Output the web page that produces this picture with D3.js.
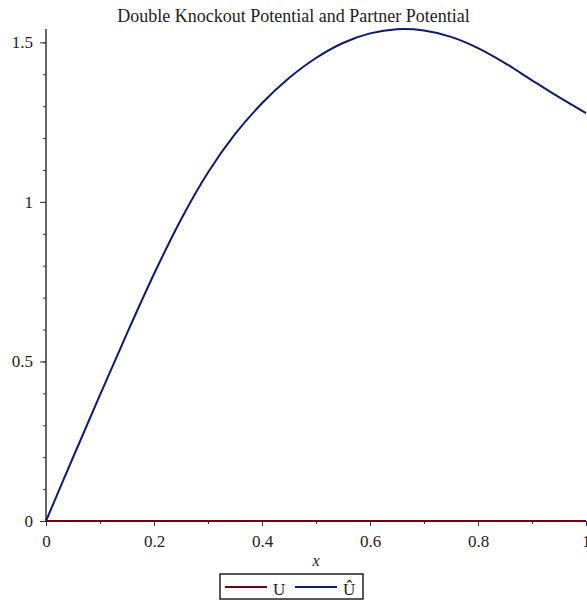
<!DOCTYPE html>
<html>
<head>
<meta charset="utf-8">
<script src="https://cdn.jsdelivr.net/npm/d3@7"></script>
<style>
  body { margin: 0; background: #fff; }
  svg { font-family: "Liberation Serif", "Times New Roman", serif; }
  .axis path, .axis line { stroke: #333; }
  .axis text { font-family: "Liberation Serif", serif; font-size: 17px; fill: #222; }
</style>
</head>
<body>
<div id="plot"></div>
<script>
// data
var xs = [0, 0.05, 0.1, 0.15, 0.2, 0.25, 0.3, 0.35, 0.4, 0.45, 0.5,
  0.55, 0.6, 0.65, 0.7, 0.75, 0.8, 0.85, 0.9, 0.95, 1.0];
var uVals = xs.map(function() { return 0; });
var uHatVals = [0, 0.199, 0.395, 0.588, 0.774, 0.945, 1.092, 1.212, 1.309, 1.388, 1.451,
  1.498, 1.528, 1.541, 1.537, 1.517, 1.482, 1.435, 1.381, 1.328, 1.278];
var xTicks = [0, 0.2, 0.4, 0.6, 0.8, 1];
var yTicks = [0, 0.5, 1, 1.5];
var seriesNames = ["U", "Û"];
var seriesColors = ["#78000E", "#0B1A72"];

var W = 587, H = 604;
var margin = { top: 29, right: 1, bottom: 83, left: 46 };
var width = W - margin.left - margin.right,
    height = H - margin.top - margin.bottom;

var svg = d3.select("#plot").append("svg")
  .attr("width", W)
  .attr("height", H);

var g = svg.append("g")
  .attr("transform", "translate(" + margin.left + "," + margin.top + ")");

var xScale = d3.scaleLinear().domain([0, 1]).range([0, width]);
var yScale = d3.scaleLinear().domain([0, 1.5418]).range([height, 0]);

// minor ticks
g.append("g").attr("class", "axis")
  .attr("transform", "translate(0," + height + ")")
  .call(d3.axisBottom(xScale).tickValues(d3.range(0.1, 1, 0.2)).tickSize(3).tickFormat(""))
  .select(".domain").remove();
g.append("g").attr("class", "axis")
  .call(d3.axisLeft(yScale).tickValues(d3.range(0, 1.55, 0.1)).tickSize(3).tickFormat(""))
  .select(".domain").remove();

var xAxis = g.append("g").attr("class", "axis")
  .attr("transform", "translate(0," + height + ")")
  .call(d3.axisBottom(xScale).tickValues(xTicks).tickSize(5).tickPadding(9)
    .tickFormat(function(d) { return d === 0 || d === 1 ? d : d3.format(".1f")(d); }));
var yAxis = g.append("g").attr("class", "axis")
  .call(d3.axisLeft(yScale).tickValues(yTicks).tickSize(6).tickPadding(7)
    .tickFormat(function(d) { return d; }));

g.selectAll(".axis .domain").attr("stroke-width", 1.5);
xAxis.select(".domain").attr("d", "M0,0H" + width);
yAxis.select(".domain").attr("d", "M0," + height + "V" + yScale(1.5418));

var line = d3.line()
  .x(function(d) { return xScale(d[0]); })
  .y(function(d) { return yScale(d[1]); })
  .curve(d3.curveCatmullRom);

[uVals, uHatVals].forEach(function(vals, i) {
  g.append("path")
    .datum(xs.map(function(x, j) { return [x, vals[j]]; }))
    .attr("fill", "none")
    .attr("stroke", seriesColors[i])
    .attr("stroke-width", 2)
    .attr("d", line);
});

// title
svg.append("text")
  .attr("x", W / 2)
  .attr("y", 22)
  .attr("text-anchor", "middle")
  .style("font-size", "18px")
  .attr("fill", "#222")
  .text("Double Knockout Potential and Partner Potential");

// x label
svg.append("text")
  .attr("x", margin.left + width / 2)
  .attr("y", 566)
  .attr("text-anchor", "middle")
  .style("font-size", "16px")
  .style("font-style", "italic")
  .attr("fill", "#222")
  .text("x");

// legend
var lg = svg.append("g").attr("transform", "translate(220,574)");
lg.append("rect")
  .attr("width", 143).attr("height", 25)
  .attr("fill", "#fff").attr("stroke", "#222").attr("stroke-width", 1.5);
var legendX = [5, 75];
seriesNames.forEach(function(name, i) {
  lg.append("line")
    .attr("x1", legendX[i]).attr("x2", legendX[i] + 42)
    .attr("y1", 13).attr("y2", 13)
    .attr("stroke", seriesColors[i]).attr("stroke-width", 2);
  lg.append("text")
    .attr("x", legendX[i] + 48).attr("y", 21)
    .style("font-size", "17px")
    .attr("fill", "#222")
    .text(name);
});
</script>
</body>
</html>
